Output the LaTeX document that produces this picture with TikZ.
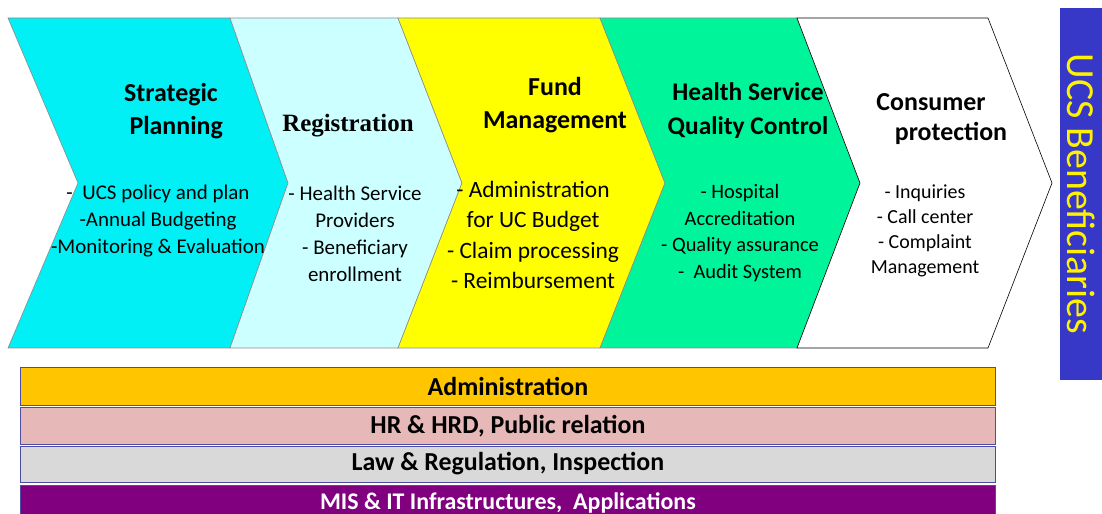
\documentclass[tikz,border=0pt]{standalone}
\usepackage{fontspec}
\setmainfont{Carlito}
\newfontfamily\regfont{Liberation Serif}
\usepackage{xcolor}
\usetikzlibrary{positioning}

\definecolor{stepcyan}{RGB}{0,240,245}
\definecolor{steplight}{RGB}{204,255,255}
\definecolor{stepyellow}{RGB}{255,255,0}
\definecolor{stepgreen}{RGB}{0,245,155}
\definecolor{baradmin}{RGB}{255,198,0}
\definecolor{barhr}{RGB}{230,184,183}
\definecolor{barlaw}{RGB}{217,217,217}
\definecolor{barmis}{RGB}{128,0,128}
\definecolor{ucsblue}{RGB}{55,55,200}

\begin{document}
\begin{tikzpicture}[x=1bp, y=-1bp,
    chevron/.style={draw=black!45, line width=0.6bp},
    head/.style={align=center, inner sep=0, font=\fontsize{26}{33}\selectfont\bfseries},
    body/.style={align=center, inner sep=0, font=\fontsize{21}{27}\selectfont},
    bar/.style={draw=blue!50!black!70, line width=0.8bp, minimum width=975bp, inner sep=0, anchor=north west, font=\fontsize{26}{28}\selectfont\bfseries}]
    \useasboundingbox (0,0) rectangle (1102,514);

    % process chevrons
    \filldraw[chevron, fill=stepcyan] (8,18) -- (230,18) -- (288,183) -- (230,348) -- (8,348) -- (78,183) -- cycle;
    \filldraw[chevron, fill=steplight] (230,18) -- (398,18) -- (462,183) -- (398,348) -- (230,348) -- (288,183) -- cycle;
    \filldraw[chevron, fill=stepyellow] (398,18) -- (600,18) -- (665,183) -- (600,348) -- (398,348) -- (462,183) -- cycle;
    \filldraw[chevron, fill=stepgreen] (600,18) -- (797,18) -- (860,183) -- (797,348) -- (600,348) -- (665,183) -- cycle;
    \filldraw[chevron, draw=black, fill=white] (797,18) -- (988,18) -- (1052,183) -- (988,348) -- (797,348) -- (860,183) -- cycle;

    \node[head] (plan) at (171,111) {Strategic\\\hspace*{0.4em}Planning};
    \node[body] (plantext) at (158,221) {-\ \ UCS policy and plan\\-Annual Budgeting\\-Monitoring \& Evaluation};

    \node[head, font=\fontsize{25}{33}\selectfont\regfont\bfseries] (reg) at (348,126) {Registration};
    \node[body] (regtext) at (355,234) {- Health Service\\Providers\\- Beneficiary\\enrollment};

    \node[head] (fund) at (555,105) {Fund\\Management};
    \node[body, font=\fontsize{23.5}{30.5}\selectfont] (fundtext) at (533,235) {- Administration\\for UC Budget\\- Claim processing\\- Reimbursement};

    \node[head, font=\fontsize{25.5}{34}\selectfont\bfseries] (quality) at (748,111) {Health Service\\Quality Control};
    \node[body, font=\fontsize{20.5}{26.5}\selectfont] (qualitytext) at (740,233) {- Hospital\\Accreditation\\- Quality assurance\\-\ \ Audit System};

    \node[head, font=\fontsize{26}{31}\selectfont\bfseries] (consumer) at (931,119) {Consumer\\\hspace*{40bp}protection};
    \node[body, font=\fontsize{20}{25}\selectfont] (consumertext) at (925,231) {- Inquiries\\- Call center\\- Complaint\\Management};

    % beneficiaries
    \node[fill=ucsblue, text=yellow, rotate=-90, minimum width=372bp, minimum height=42bp, inner sep=0, font=\fontsize{40}{42}\selectfont] (ucs) at (1081,194) {UCS Beneficiaries};

    % supporting layers
    \node[bar, fill=baradmin, minimum height=38bp] (admin) at (20,367) {Administration};
    \node[bar, fill=barhr, minimum height=37bp, below=1bp of admin.south west, anchor=north west] (hr) {HR \& HRD, Public relation};
    \node[bar, fill=barlaw, minimum height=36bp, below=1bp of hr.south west, anchor=north west] (law) {Law \& Regulation, Inspection};
    \node[bar, fill=barmis, text=white, minimum height=34bp, below=3bp of law.south west, anchor=north west, font=\fontsize{24}{26}\selectfont\bfseries] (mis) {MIS \& IT Infrastructures,\ \ Applications};
\end{tikzpicture}
\end{document}
